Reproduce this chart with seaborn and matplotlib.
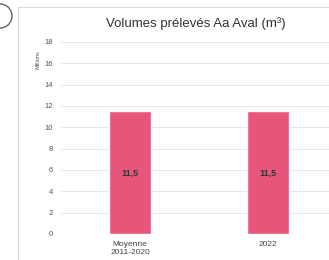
import matplotlib
matplotlib.use("Agg")
import matplotlib.pyplot as plt
from matplotlib.patches import Rectangle, Ellipse
import pandas as pd
import seaborn as sns

categories = ["Moyenne\n2011-2020", "2022"]
volumes = [11.5, 11.5]
value_labels = ["11,5", "11,5"]
y_ticks = [0, 2, 4, 6, 8, 10, 12, 14, 16, 18]

df = pd.DataFrame({"periode": categories, "volume": volumes})

sns.set_theme(style="white")
plt.rcParams["font.family"] = ["Liberation Sans", "DejaVu Sans"]

W, H = 329, 260
fig = plt.figure(figsize=(W / 100, H / 100), dpi=100)
fig.patch.set_facecolor("white")

# panel frame and partial icon at top left
fig.patches.append(Rectangle((18 / W, -0.1), 1.2, (H - 7) / H + 0.1, transform=fig.transFigure,
                             fill=False, edgecolor="#d9d9d9", linewidth=0.8))
fig.patches.append(Ellipse((0 / W, 1 - 16 / H), 24 / W, 24 / H, transform=fig.transFigure,
                           fill=False, edgecolor="#666666", linewidth=1.0))

ax = fig.add_axes([61 / W, 26 / H, 276 / W, 192 / H])
sns.barplot(data=df, x="periode", y="volume", color="#e8557a", width=0.31,
            saturation=1, ax=ax, zorder=3)

ax.set_ylim(0, 18)
ax.set_xlim(-0.5, 1.5)
ax.set_yticks(y_ticks)
ax.set_yticklabels([str(t) for t in y_ticks], fontsize=5.5, color="#555555")
ax.tick_params(axis="x", labelsize=6, labelcolor="#444444", length=0, pad=5)
ax.tick_params(axis="y", length=0, pad=6)
ax.grid(axis="y", color="#e3e3e3", linewidth=0.6, zorder=0)
for s in ax.spines.values():
    s.set_visible(False)
ax.set_xlabel("")
ax.set_ylabel("")

for i, (v, lab) in enumerate(zip(volumes, value_labels)):
    ax.text(i, v / 2, lab, ha="center", va="center", fontsize=6.5,
            fontweight="bold", color="#333333", zorder=4)

fig.text(38 / W, 1 - 60 / H, "Millions", rotation=90, ha="center", va="center",
         fontsize=4, color="#555555")
fig.text(196 / W, 1 - 24 / H, "Volumes prélevés Aa Aval (m³)", ha="center", va="center",
         fontsize=9.5, color="#333333")

fig.savefig("out.png", dpi=100)
